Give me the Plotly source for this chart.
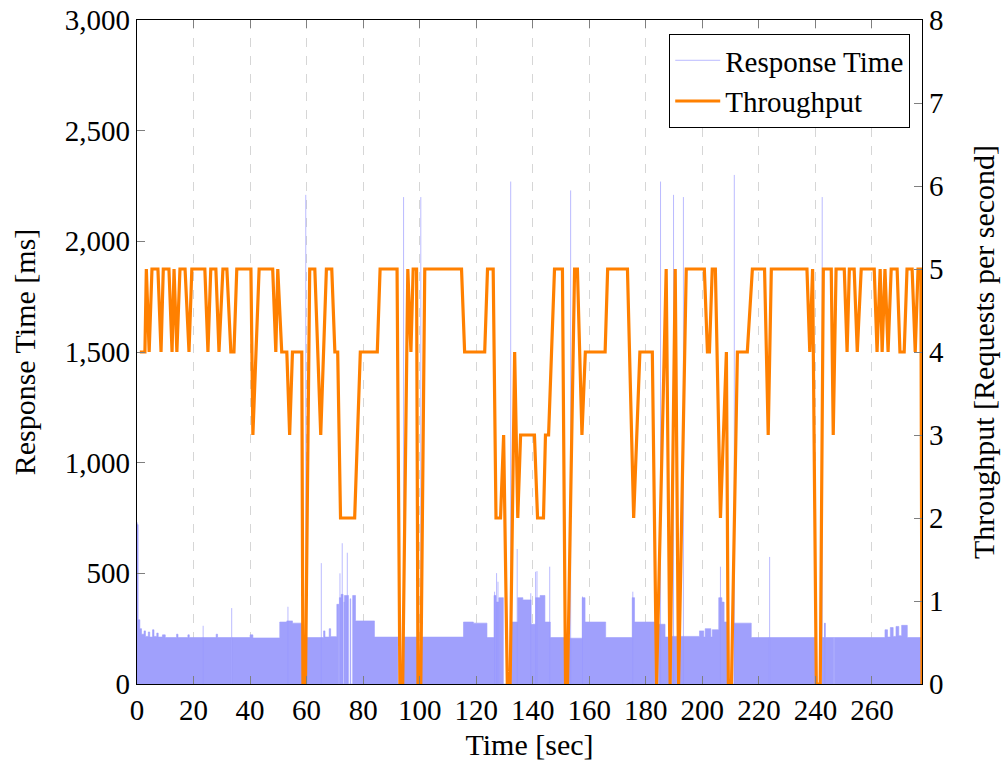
import plotly.graph_objects as go

# ---------------- data ----------------
# Throughput [requests per second] : vertex times and values
tp_time = [1.0, 2.8, 3.3, 4.3, 5.3, 7.4, 8.5, 9.3, 11.3, 12.4, 13.1, 14.1, 15.2, 17.0, 18.4, 19.4,
           24.0, 25.1, 26.1, 27.9, 29.0, 30.4, 31.8, 33.2, 34.3, 35.3, 40.3, 41.0, 43.2, 48.0,
           49.1, 49.8, 51.2, 53.0, 54.0, 55.0, 58.3, 58.7, 59.6, 61.1, 62.9, 65.0, 67.0, 68.9,
           70.0, 71.0, 72.0, 77.0, 79.0, 85.0, 86.0, 92.0, 93.0, 94.0, 95.8, 96.9, 97.7, 98.9,
           99.4, 100.4, 101.8, 114.8, 115.9, 123.0, 124.0, 126.0, 127.0, 128.6, 129.7, 131.0,
           132.0, 133.6, 134.7, 135.7, 140.6, 141.7, 143.8, 144.5, 145.6, 147.7, 150.5, 151.6,
           152.3, 154.8, 155.8, 157.4, 158.6, 165.6, 166.5, 173.5, 175.7, 177.9, 182.3, 183.8,
           187.2, 188.6, 190.4, 191.6, 194.3, 200.7, 201.8, 202.5, 203.5, 204.6, 206.4, 208.5,
           209.2, 210.3, 212.4, 215.9, 217.7, 222.0, 223.3, 224.4, 237.0, 238.0, 239.0, 240.3,
           241.7, 242.8, 245.6, 246.3, 247.3, 250.2, 251.2, 252.0, 253.7, 254.8, 256.2, 260.8,
           261.8, 262.9, 263.6, 264.6, 265.7, 266.8, 268.9, 269.9, 271.4, 272.4, 274.2, 275.3,
           276.3, 277.3, 277.7]
tp_value = [4, 4, 5, 4, 5, 5, 4, 5, 5, 4, 5, 4, 5, 5, 4, 5,
            5, 4, 5, 5, 4, 5, 5, 4, 4, 5, 5, 3, 5, 5,
            4, 5, 4, 4, 3, 4, 4, 0, 0, 5, 5, 3, 5, 5,
            4, 4, 2, 2, 4, 4, 5, 5, 0, 0, 5, 4, 5, 5,
            0, 0, 5, 5, 4, 4, 5, 5, 2, 2, 3, 0,
            0, 4, 2, 3, 3, 2, 2, 3, 3, 5, 5, 0,
            0, 5, 5, 3, 4, 4, 5, 5, 2, 4, 4, 0,
            5, 0, 5, 0, 5, 5, 4, 4, 5, 5, 2, 4,
            0, 0, 4, 4, 5, 5, 3, 5, 5, 4, 5, 0,
            0, 5, 5, 3, 5, 5, 4, 5, 5, 4, 5, 5,
            4, 5, 4, 5, 4, 5, 5, 4, 4, 5, 5, 4,
            5, 5, 0]

# Response time [ms] : level of the dense sample band (step changes)
rt_time = [0.0, 0.4, 1.0, 1.6, 2.5, 3.0, 4.0, 4.5, 5.5, 6.0, 7.0, 7.5, 9.0, 10.0, 14.0, 14.5,
           18.0, 18.5, 28.0, 28.5, 33.3, 33.5, 40.0, 41.0, 50.5, 53.0, 55.0, 58.5, 59.7, 66.0,
           66.5, 68.0, 68.5, 70.7, 71.4, 71.6, 72.2, 72.9, 73.2, 73.4, 74.8, 75.4, 75.6, 76.3,
           77.3, 84.0, 92.3, 94.3, 99.2, 100.5, 115.5, 119.0, 123.8, 126.3, 127.0, 128.0, 129.6,
           132.4, 134.7, 136.5, 139.4, 141.0, 142.6, 144.3, 146.2, 151.3, 152.6, 157.5, 158.5,
           165.8, 175.2, 176.0, 183.2, 184.5, 186.8, 188.2, 189.1, 191.0, 191.8, 199.0, 200.5,
           201.0, 203.0, 203.5, 205.8, 206.9, 207.7, 209.0, 211.2, 217.3, 223.6, 223.75, 239.8,
           242.4, 243.2, 243.5, 246.5, 246.65, 264.6, 265.5, 266.5, 267.5, 268.5, 269.5, 270.5,
           272.5, 277.7]
rt_value = [720, 290, 250, 225, 240, 215, 235, 212, 245, 215, 230, 212, 222, 210, 225, 210,
            222, 210, 225, 210, 0, 210, 222, 208, 280, 285, 275, 0, 210, 240,
            212, 250, 214, 360, 0, 390, 405, 0, 370, 400, 0, 385, 0, 400,
            285, 212, 0, 212, 0, 212, 280, 275, 210, 400, 370, 390, 0,
            280, 390, 380, 270, 390, 400, 280, 210, 0, 207, 390, 280,
            210, 390, 280, 0, 270, 212, 0, 215, 0, 215, 240, 212,
            250, 212, 245, 390, 370, 280, 0, 275, 210, 0, 210, 0,
            210, 275, 210, 0, 210, 245, 212, 255, 215, 260, 218, 265,
            210, 210]

# Isolated slow requests (spikes)
spike_time = [0.1, 23.4, 33.5, 53.4, 59.7, 65.2, 71.8, 72.6, 74.4, 94.3, 100.4, 126.5, 127.2,
              127.7, 132.2, 134.5, 139.3, 141.0, 141.5, 146.0, 153.4, 157.6, 175.4, 185.2,
              189.8, 193.3, 206.4, 211.3, 223.8, 242.4, 243.3]
spike_value = [730, 263, 343, 349, 2210, 546, 500, 636, 593, 2200, 2200, 417, 501,
               462, 2270, 610, 410, 507, 510, 530, 2230, 395, 417, 2270,
               2210, 2200, 530, 2300, 574, 2200, 275]

x_ticks = list(range(0, 261, 20))
y1_ticks = list(range(0, 3001, 500))
y2_ticks = list(range(0, 9))

# ---------------- figure ----------------
FONT = "Liberation Serif"
BAND = "rgb(160,160,252)"
SPIKE = "rgba(150,150,255,0.65)"
ORANGE = "rgb(255,128,0)"

fig = go.Figure()

fig.add_trace(go.Scatter(
    x=rt_time, y=rt_value, mode="lines", line=dict(color=BAND, width=0.6, shape="hv"),
    fill="tozeroy", fillcolor=BAND, showlegend=False, hoverinfo="skip"))

sx, sy = [], []
for t, v in zip(spike_time, spike_value):
    sx += [t, t, None]
    sy += [0, v, None]
fig.add_trace(go.Scatter(
    x=sx, y=sy, mode="lines", line=dict(color=SPIKE, width=1),
    name="Response Time"))

fig.add_trace(go.Scatter(
    x=tp_time, y=tp_value, mode="lines", line=dict(color=ORANGE, width=3.2),
    name="Throughput", yaxis="y2"))

TICK = 29
TITLE = 30

axis_common = dict(ticks="inside", ticklen=8, tickcolor="#7f7f7f", tickwidth=1,
                   showline=True, linecolor="black", linewidth=1.2,
                   tickfont=dict(family=FONT, size=TICK, color="black"),
                   zeroline=False, automargin=False)

fig.update_layout(
    width=1002, height=771,
    margin=dict(l=137, r=80, t=20, b=87),
    paper_bgcolor="white", plot_bgcolor="white",
    font=dict(family=FONT, size=TICK, color="black"),
    xaxis=dict(range=[0, 277.7], tickvals=x_ticks, showgrid=True, gridcolor="#d6d6d6",
               griddash="dash", gridwidth=1, mirror="ticks",
               title=dict(text="Time [sec]", font=dict(family=FONT, size=TITLE), standoff=9),
               **axis_common),
    yaxis=dict(range=[0, 3000], tickvals=y1_ticks, tickformat=",d", showgrid=False,
               title=dict(text="Response Time [ms]", font=dict(family=FONT, size=TITLE), standoff=20),
               **axis_common),
    yaxis2=dict(range=[0, 8], tickvals=y2_ticks, overlaying="y", side="right", showgrid=False,
                title=dict(text="Throughput [Requests per second]", font=dict(family=FONT, size=TITLE),
                           standoff=30),
                **axis_common),
    legend=dict(x=0.985, y=0.979, xanchor="right", yanchor="top",
                bgcolor="white", bordercolor="black", borderwidth=1, itemwidth=45,
                font=dict(family=FONT, size=29), tracegroupgap=0),
    showlegend=True,
)

fig.write_html("out.html")
